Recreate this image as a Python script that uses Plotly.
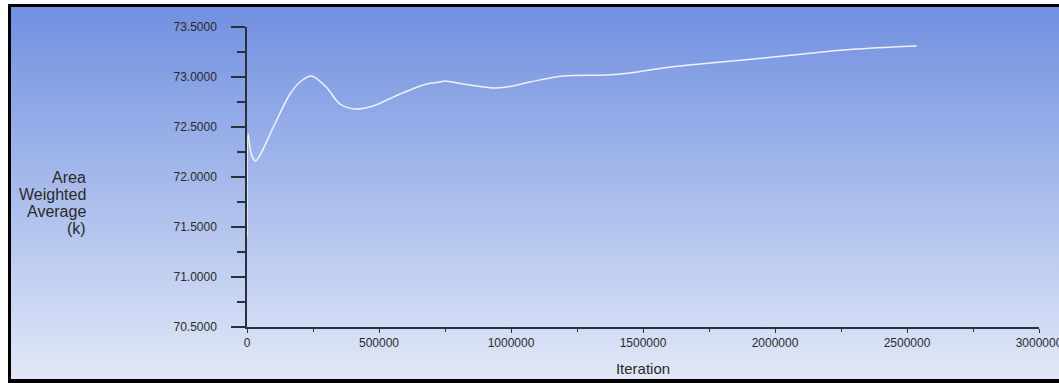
import base64
import plotly.graph_objects as go

# iteration vs area weighted average (k)
iteration = [0, 4000, 12000, 22000, 33000, 50000, 100000, 163000, 205000, 245000,
             300000, 352000, 409000, 478000, 580000, 680000, 731000, 750000, 819000,
             933000, 984000, 1072000, 1198000, 1362000, 1451000, 1577000, 1640000,
             1716000, 1880000, 2069000, 2259000, 2448000, 2537000]
avg_k = [71.40, 72.43, 72.28, 72.19, 72.16, 72.22, 72.50, 72.83, 72.96, 73.01,
         72.90, 72.73, 72.68, 72.71, 72.83, 72.93, 72.95, 72.96, 72.93,
         72.89, 72.90, 72.95, 73.01, 73.02, 73.04, 73.09, 73.11,
         73.13, 73.17, 73.22, 73.27, 73.30, 73.31]

y_ticks = [70.5, 71.0, 71.5, 72.0, 72.5, 73.0, 73.5]
x_ticks = [0, 500000, 1000000, 1500000, 2000000, 2500000, 3000000]
y_title = ["Area", "Weighted", "Average", "(k)"]

W, H = 1059, 383
L, R, T, B = 247, 20, 27, 56
pw, ph = W - L - R, H - T - B
TOP_C, BOT_C = "#7190e0", "#e1e8f7"


def px(x):
    return (x - L) / pw


def py(y):
    return (H - B - y) / ph


svg = ('<svg xmlns="http://www.w3.org/2000/svg" width="100" height="100" preserveAspectRatio="none">'
       '<defs><linearGradient id="g" x1="0" y1="0" x2="0" y2="1">'
       f'<stop offset="0" stop-color="{TOP_C}"/><stop offset="1" stop-color="{BOT_C}"/>'
       '</linearGradient></defs><rect width="100" height="100" fill="url(#g)"/></svg>')
bg_src = "data:image/svg+xml;base64," + base64.b64encode(svg.encode()).decode()

fig = go.Figure(go.Scatter(x=iteration, y=avg_k, mode="lines",
                           line=dict(color="#eef2fb", width=1.5, shape="spline", smoothing=0.8),
                           hoverinfo="skip"))

axis_font = dict(family="Liberation Sans, Arial, sans-serif", size=12, color="#2a2a2a")

fig.update_layout(width=W, height=H, margin=dict(l=L, r=R, t=T, b=B, pad=0, autoexpand=False),
                  paper_bgcolor="white", plot_bgcolor="rgba(0,0,0,0)",
                  showlegend=False,
                  images=[dict(source=bg_src, xref="paper", yref="paper",
                               x=px(11), y=py(7), sizex=px(W + 2) - px(11), sizey=py(7) - py(379),
                               xanchor="left", yanchor="top", sizing="stretch", layer="below")],
                  shapes=[dict(type="rect", xref="paper", yref="paper", x0=px(8), x1=px(11), y0=py(383), y1=py(4),
                               fillcolor="black", line_width=0, layer="below"),
                          dict(type="rect", xref="paper", yref="paper", x0=px(8), x1=px(W + 2), y0=py(7), y1=py(4),
                               fillcolor="black", line_width=0, layer="below"),
                          dict(type="rect", xref="paper", yref="paper", x0=px(8), x1=px(W + 2), y0=py(383), y1=py(379),
                               fillcolor="black", line_width=0, layer="below")])

fig.update_yaxes(range=[70.5, 73.5], tickvals=y_ticks, tickformat=".4f", ticks="outside",
                 ticklen=14, tickwidth=1.5, tickcolor="#2b303c", showline=True, linecolor="#2b303c",
                 linewidth=1.5, showgrid=False, zeroline=False, tickfont=axis_font, ticklabelstandoff=12,
                 layer="below traces", automargin=False,
                 minor=dict(dtick=0.25, ticks="outside", ticklen=8, tickwidth=1.5, tickcolor="#2b303c"))
fig.update_xaxes(range=[0, 3000000], tickvals=x_ticks, tickformat="d", ticks="outside",
                 ticklen=4, tickwidth=1, tickcolor="#2b303c", showline=True, linecolor="#2b303c",
                 linewidth=1.5, showgrid=False, zeroline=False, tickfont=axis_font,
                 ticklabeloverflow="allow", layer="below traces", automargin=False,
                 minor=dict(dtick=250000, ticks="outside", ticklen=3, tickwidth=1, tickcolor="#2b303c"),
                 title=dict(text="Iteration", font=dict(family="Liberation Sans, Arial, sans-serif",
                                                        size=15, color="#2a2a2a"), standoff=14))

for i, line in enumerate(y_title):
    fig.add_annotation(text=line, xref="paper", yref="paper", x=px(88), y=py(177.5 + 17 * i),
                       xanchor="right", yanchor="middle", showarrow=False,
                       font=dict(family="Liberation Sans, Arial, sans-serif", size=16, color="#2a2a2a"))

# figure flush with the window corner; the page behind it carries the same panel colours
page_js = f"""
document.body.style.margin = '0';
document.documentElement.style.overflow = 'hidden';
document.body.style.overflow = 'hidden';
document.documentElement.style.background = 'linear-gradient(to bottom, white 0px, white 4px, black 4px, black 7px, {TOP_C} 7px, {BOT_C} 379px, black 379px, black 383px) no-repeat';
document.body.style.background = 'transparent';
var gd = document.querySelector('.plotly-graph-div');
gd.style.overflow = 'hidden';
gd.parentElement.style.overflow = 'hidden';
"""
fig.write_html("out.html", config=dict(displayModeBar=False), post_script=page_js)
